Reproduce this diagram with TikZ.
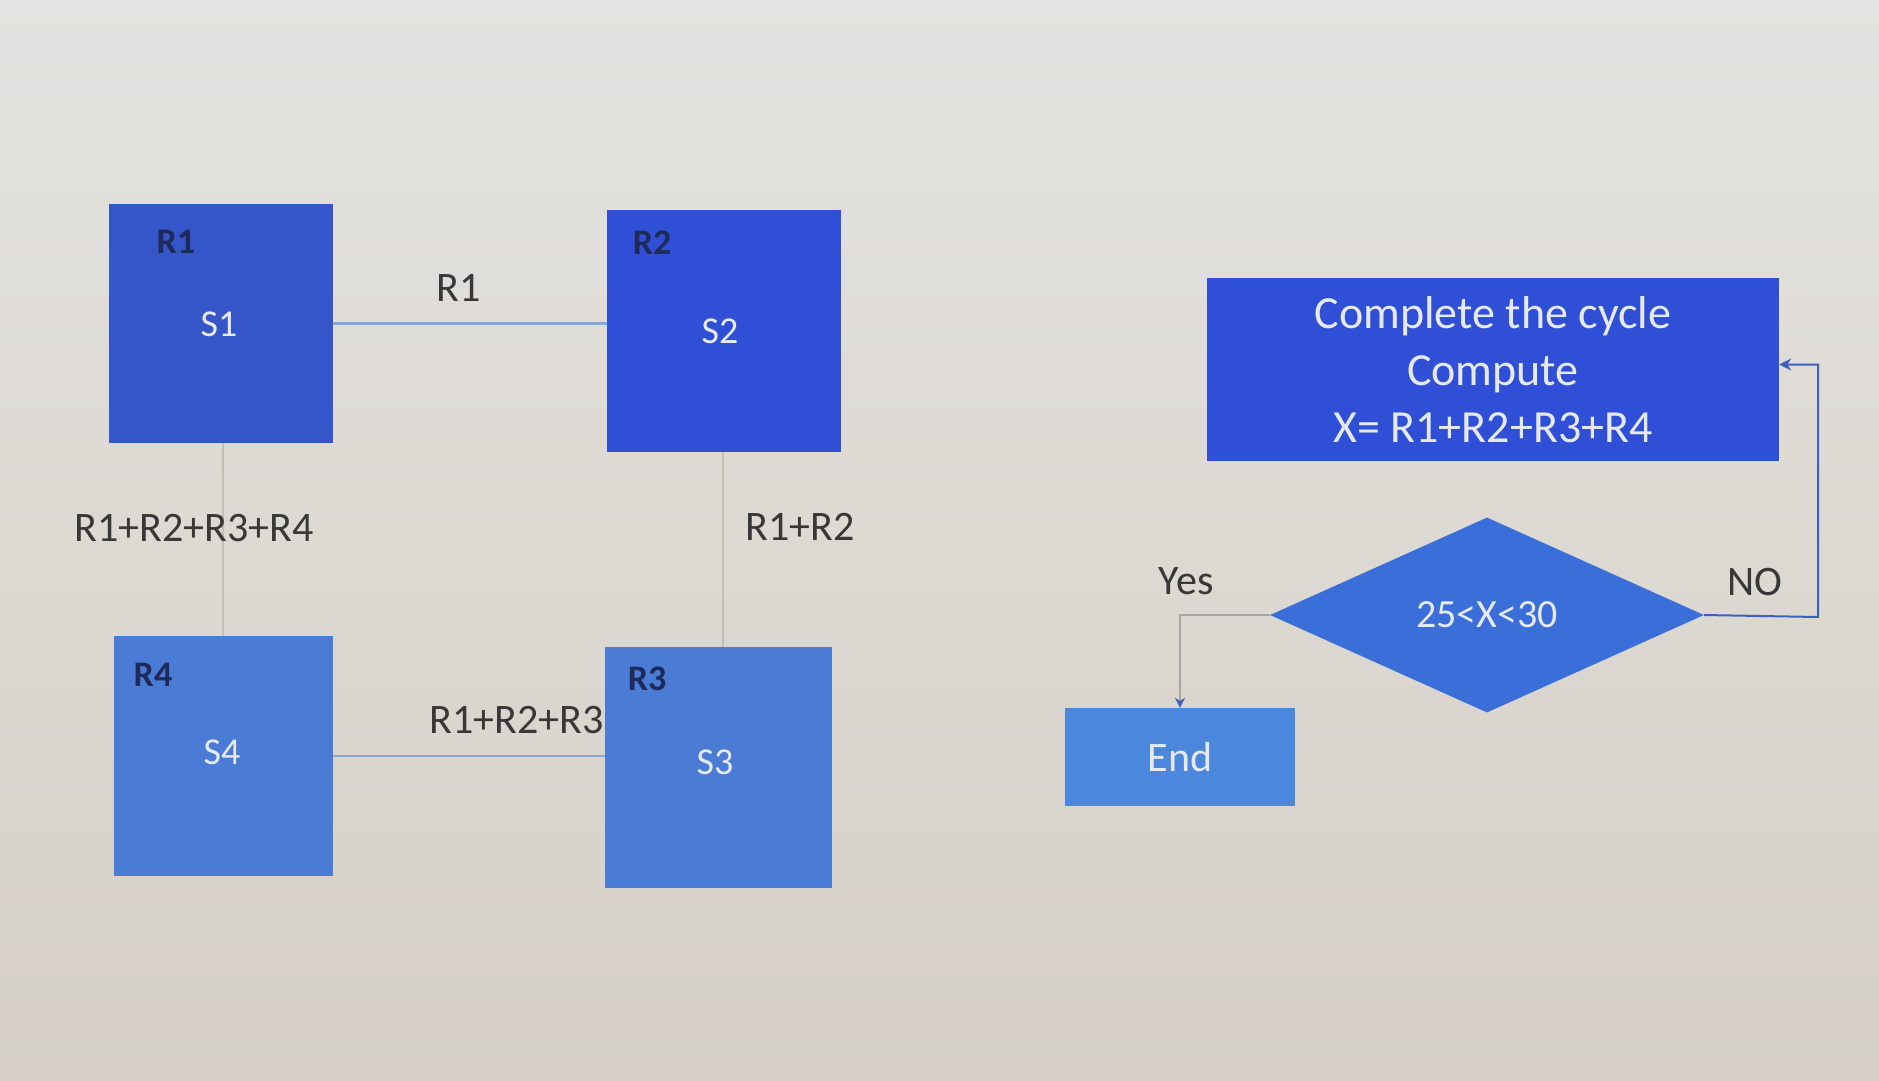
\documentclass[tikz,border=0pt]{standalone}
\usepackage{fontspec}
\setmainfont{Carlito}
\usetikzlibrary{shapes.geometric,arrows.meta}
\definecolor{bgtop}{HTML}{E4E3E1}
\definecolor{bgbot}{HTML}{D5CFC5}
\definecolor{deepblue}{HTML}{3556C9}
\definecolor{brightblue}{HTML}{2F50D6}
\definecolor{lightblue}{HTML}{4A7CD6}
\definecolor{diamblue}{HTML}{3A6ED8}
\definecolor{endblue}{HTML}{4C87DE}
\definecolor{navy}{HTML}{1E2A5A}
\definecolor{paletxt}{HTML}{E6E9F2}
\definecolor{labtxt}{HTML}{383838}
\definecolor{linkblue}{HTML}{8FA6D2}
\definecolor{faintline}{HTML}{C4BEB4}
\definecolor{arrowblue}{HTML}{3F5FBF}
\tikzset{
  sbox/.style={rectangle, inner sep=0pt, draw=none},
  rlabel/.style={text=navy, font=\fontsize{36}{40}\selectfont\bfseries},
  slabel/.style={text=paletxt, font=\fontsize{38}{42}\selectfont},
  extlabel/.style={text=labtxt, font=\fontsize{42}{46}\selectfont},
  link/.style={draw=linkblue, line width=2.5pt},
  faint/.style={draw=faintline, line width=1.5pt},
  yesflow/.style={draw=gray!70, line width=2pt, -{Stealth[length=10pt,width=10pt,color=arrowblue]}},
  noflow/.style={draw=arrowblue, line width=2pt, -{Stealth[length=12pt,width=12pt]}}
}
\begin{document}
\begin{tikzpicture}[x=1pt,y=-1pt]
\useasboundingbox (0,0) rectangle (1879,1080);
\shade[top color=bgtop, bottom color=bgbot] (0,0) rectangle (1879,1080);

% state boxes
\node[sbox, fill=deepblue, minimum width=224pt, minimum height=239pt] (s1) at (221,323.5) {};
\node[sbox, fill=brightblue, minimum width=234pt, minimum height=242pt] (s2) at (724,331) {};
\node[sbox, fill=lightblue, minimum width=219pt, minimum height=240pt] (s4) at (223.5,756) {};
\node[sbox, fill=lightblue, minimum width=227pt, minimum height=241pt] (s3) at (718.5,767.5) {};

\node[rlabel] (r1) at (176,242) {R1};
\node[slabel] (t1) at (219,324) {S1};
\node[rlabel] (r2) at (652,243) {R2};
\node[slabel] (t2) at (720,331) {S2};
\node[rlabel] (r4) at (153,675) {R4};
\node[slabel] (t4) at (222,752) {S4};
\node[rlabel] (r3) at (647,679) {R3};
\node[slabel] (t3) at (715,762) {S3};

% links between states
\draw[link] (s1.east) -- (s1.east -| s2.west);
\draw[link] (s4.east) -- (s4.east -| s3.west);
\draw[faint] (s1.south -| 223,0) -- (s4.north -| 223,0);
\draw[faint] (s2.south -| 723,0) -- (s3.north -| 723,0);

\node[extlabel] (l1) at (459,288) {R1};
\node[extlabel] (l14) at (194,528) {R1+R2+R3+R4};
\node[extlabel] (l12) at (800,527) {R1+R2};
\node[extlabel, anchor=east] (l123) at (607,720) {R1+R2+R3};

% flowchart
\node[sbox, fill=brightblue, minimum width=572pt, minimum height=183pt, align=center,
      text=paletxt, font=\fontsize{46}{57}\selectfont] (cp) at (1493,369.5)
      {Complete the cycle\\Compute\\X= R1+R2+R3+R4};
\node[diamond, fill=diamblue, inner sep=0pt, aspect=2.2, minimum width=434pt,
      minimum height=195pt, text=paletxt, font=\fontsize{40}{44}\selectfont] (d) at (1487,615) {25<X<30};
\node[sbox, fill=endblue, minimum width=230pt, minimum height=98pt, text=paletxt,
      font=\fontsize{42}{46}\selectfont] (end) at (1180,757) {End};

\coordinate (nocorner) at (1818,617);
\draw[yesflow] (d.west) -| (end.north);
\draw[noflow] (d.east) -- (nocorner) |- ([yshift=5pt]cp.east);

\node[extlabel] (yes) at (1186,581) {Yes};
\node[extlabel] (no) at (1755,582) {NO};
\end{tikzpicture}
\end{document}
